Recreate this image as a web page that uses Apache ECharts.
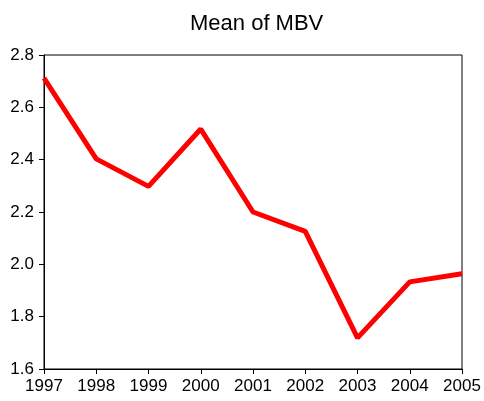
<!DOCTYPE html>
<html>
<head>
<meta charset="utf-8">
<script src="https://cdn.jsdelivr.net/npm/echarts@6/dist/echarts.min.js"></script>
<style>
  html, body { margin: 0; padding: 0; background: #fff; }
  #main { width: 484px; height: 401px; }
</style>
</head>
<body>
<div id="main"></div>
<script>
// 数据
var years = ['1997', '1998', '1999', '2000', '2001', '2002', '2003', '2004', '2005'];
var meanMBV = [2.712, 2.403, 2.298, 2.517, 2.200, 2.126, 1.719, 1.933, 1.964];
var yTicks = [1.6, 1.8, 2.0, 2.2, 2.4, 2.6, 2.8];

var chart = echarts.init(document.getElementById('main'));

var font = '"Liberation Sans", Arial, sans-serif';

var option = {
    backgroundColor: '#fff',
    animation: false,
    title: {
        text: 'Mean of MBV',
        left: 185,
        top: 8,
        textStyle: { fontFamily: font, fontSize: 22, fontWeight: 'normal', color: '#000' }
    },
    grid: {
        left: 44, right: 22, top: 55, bottom: 32,
        show: true, borderColor: '#000', borderWidth: 1, backgroundColor: 'transparent'
    },
    xAxis: {
        type: 'category',
        data: years,
        boundaryGap: false,
        axisLine: { lineStyle: { color: '#000', width: 1 } },
        axisTick: { length: 5, lineStyle: { color: '#000' }, alignWithLabel: true },
        axisLabel: { color: '#000', fontFamily: font, fontSize: 17, margin: 9, interval: 0 },
        splitLine: { show: false }
    },
    yAxis: {
        type: 'value',
        min: yTicks[0],
        max: yTicks[yTicks.length - 1],
        interval: 0.2,
        axisLine: { show: true, lineStyle: { color: '#000', width: 1 } },
        axisTick: { show: true, length: 5, lineStyle: { color: '#000' } },
        axisLabel: {
            color: '#000', fontFamily: font, fontSize: 17, margin: 10,
            formatter: function (v) { return v.toFixed(1); }
        },
        splitLine: { show: false }
    },
    series: [{
        name: 'Mean of MBV',
        type: 'line',
        data: meanMBV,
        showSymbol: false,
        lineStyle: { color: '#ff0000', width: 5 },
        itemStyle: { color: '#ff0000' }
    }]
};

chart.setOption(option);
</script>
</body>
</html>
